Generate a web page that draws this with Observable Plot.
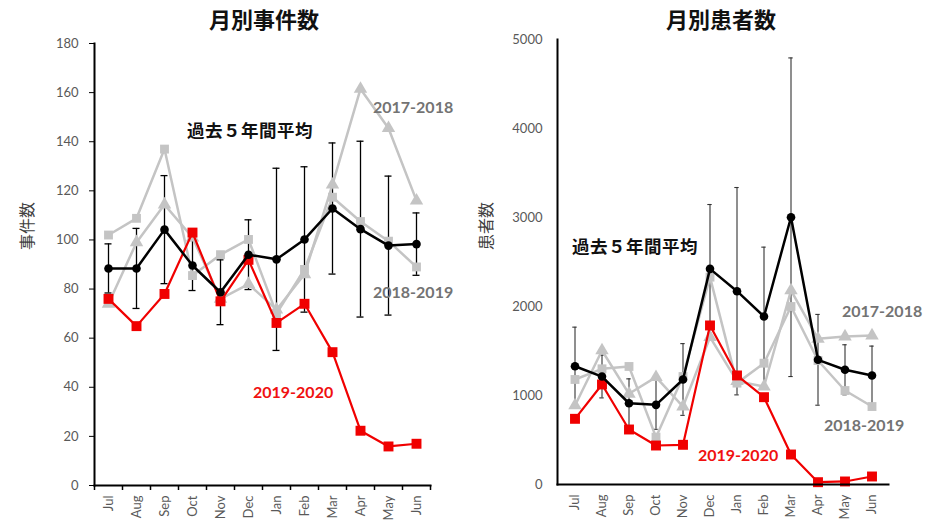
<!DOCTYPE html>
<html>
<head>
<meta charset="utf-8">
<script src="https://cdn.jsdelivr.net/npm/d3@7"></script>
<script src="https://cdn.jsdelivr.net/npm/@observablehq/plot@0.6"></script>
<style>
  body { margin: 0; background: #fff; }
  #wrap { position: relative; width: 925px; height: 522px; overflow: hidden; }
  .panel { position: absolute; top: 0; }
  .title, .ylab, .note { position: absolute; white-space: nowrap; line-height: 1; }
  .title { font-family: "Noto Sans CJK JP", sans-serif; font-weight: 700; font-size: 22px; color: #111; transform: translate(-50%, -50%); }
  .ylab { font-family: "Noto Sans CJK JP", sans-serif; font-size: 16px; color: #404040; transform: translate(-50%, -50%) rotate(-90deg); }
  .note { transform: translateY(-50%); font-weight: 700; }
  .avg { font-family: "Noto Sans CJK JP", sans-serif; font-size: 17.5px; color: #111; letter-spacing: 0.5px; }
  .yr { font-family: Lato, sans-serif; font-size: 16px; }
  .gray { color: #737373; }
  .red { color: #f01010; }
</style>
</head>
<body>
<div id="wrap">
  <div class="title" style="left:264px; top:18px;">月別事件数</div>
  <div class="title" style="left:721px; top:18px;">月別患者数</div>
  <div class="ylab" style="left:26px; top:226px;">事件数</div>
  <div class="ylab" style="left:485px; top:226px;">患者数</div>
</div>
<script>
// Fiscal-year months, July through June
const months = ["Jul", "Aug", "Sep", "Oct", "Nov", "Dec", "Jan", "Feb", "Mar", "Apr", "May", "Jun"];

// Monthly number of cases
const casesAvg  = [88.4, 88.4, 104.2, 89.6, 78.7, 94.0, 92.1, 100.2, 112.8, 104.4, 97.7, 98.3];
const casesSd   = [10.0, 16.3, 22.0, 10.2, 13.2, 14.2, 37.1, 29.6, 26.7, 35.8, 28.3, 12.7];
const cases1718 = [74, 99, 114.4, 101, 76, 82, 71.6, 86, 122.5, 161.5, 145.5, 116];
const cases1819 = [102, 108.8, 137, 85.5, 94, 100.2, 70, 88, 117.4, 107.5, 99.5, 89];
const cases1920 = [76, 64.9, 78, 103, 75, 91.9, 66.2, 74, 54.3, 22.3, 15.9, 17];
const casesTicks = [0, 20, 40, 60, 80, 100, 120, 140, 160, 180];

// Monthly number of patients
const patientsAvg  = [1329, 1213, 913, 895, 1180, 2423, 2172, 1888, 3003, 1401, 1289, 1225];
const patientsSd   = [439, 240, 274, 275, 403, 723, 1165, 779, 1790, 510, 281, 330];
const patients1718 = [888, 1506, 1019, 1206, 876, 1655, 1161, 1101, 2180, 1637, 1663, 1674];
const patients1819 = [1180, 1300, 1326, 532, 1213, 2330, 1139, 1363, 2000, 1393, 1056, 876];
const patients1920 = [738, 1124, 618, 438, 446, 1787, 1225, 981, 337, 26, 34, 90];
const patientsTicks = [0, 1000, 2000, 3000, 4000, 5000];

const seriesNames = ["過去５年間平均", "2017-2018", "2018-2019", "2019-2020"];

const GRAY = "#c4c4c4";
const RED = "#f00000";

function rows(avg, sd, a, b, c) {
  return months.map((m, i) => ({month: m, avg: avg[i], sd: sd[i], s1718: a[i], s1819: b[i], s1920: c[i]}));
}

function panel(o) {
  const data = rows(...o.values);
  const bw = (o.width - o.marginLeft - o.marginRight) / months.length;
  const capInset = (bw - o.capWidth) / 2;
  const marks = [
    Plot.axisY({ticks: o.ticks, tickFormat: d3.format("d"), tickSize: o.yTickSize, tickPadding: o.yTickPadding, stroke: "#000", fill: "#595959", label: null}),
    Plot.axisX({tickSize: 0, tickPadding: 10, tickRotate: -90, fill: "#595959", label: null})
  ];
  if (o.xBoundaryTicks) {
    marks.push(
      Plot.axisX({tickSize: 5, tickFormat: () => "", dx: -bw / 2, stroke: "#000", strokeWidth: 1.5, label: null}),
      Plot.axisX({ticks: [months[months.length - 1]], tickSize: 5, tickFormat: () => "", dx: bw / 2, stroke: "#000", strokeWidth: 1.5, label: null})
    );
  }
  marks.push(
    // error bars: five-year mean ± SD
    Plot.ruleX(data, {x: "month", y1: d => d.avg - d.sd, y2: d => d.avg + d.sd, stroke: o.errColor, strokeWidth: o.errWidth}),
    Plot.tickY(data, {x: "month", y: d => d.avg + d.sd, insetLeft: capInset, insetRight: capInset, stroke: o.errColor, strokeWidth: o.errWidth}),
    Plot.tickY(data, {x: "month", y: d => d.avg - d.sd, insetLeft: capInset, insetRight: capInset, stroke: o.errColor, strokeWidth: o.errWidth}),
    // 2017-2018 (triangles)
    Plot.line(data, {x: "month", y: "s1718", stroke: GRAY, strokeWidth: 2.5}),
    Plot.dot(data, {x: "month", y: "s1718", symbol: "triangle", r: 5, fill: GRAY}),
    // 2018-2019 (squares)
    Plot.line(data, {x: "month", y: "s1819", stroke: GRAY, strokeWidth: 2.5}),
    Plot.dot(data, {x: "month", y: "s1819", symbol: "square", r: 5, fill: GRAY}),
    // 2019-2020
    Plot.line(data, {x: "month", y: "s1920", stroke: RED, strokeWidth: 2.2}),
    Plot.dot(data, {x: "month", y: "s1920", symbol: "square", r: 5.6, fill: RED}),
    // five-year average
    Plot.line(data, {x: "month", y: "avg", stroke: "#000", strokeWidth: 2.5}),
    Plot.dot(data, {x: "month", y: "avg", r: 4.3, fill: "#000"}),
    // axis lines
    Plot.frame({anchor: "left", stroke: "#000", strokeWidth: 2}),
    Plot.frame({anchor: "bottom", stroke: "#000", strokeWidth: 2})
  );
  return Plot.plot({
    width: o.width,
    height: 522,
    marginTop: o.marginTop,
    marginBottom: o.marginBottom,
    marginLeft: o.marginLeft,
    marginRight: o.marginRight,
    style: {fontFamily: "Lato, sans-serif", fontSize: "13px", background: "transparent", overflow: "visible"},
    x: {type: "band", domain: months, padding: 0},
    y: {domain: [o.ticks[0], o.ticks[o.ticks.length - 1]]},
    marks
  });
}

const wrap = document.getElementById("wrap");

const left = panel({
  values: [casesAvg, casesSd, cases1718, cases1819, cases1920],
  ticks: casesTicks,
  width: 460, marginTop: 43, marginBottom: 37, marginLeft: 94, marginRight: 30,
  yTickSize: 5, yTickPadding: 11, xBoundaryTicks: true,
  capWidth: 7, errColor: "#000", errWidth: 1.3
});
left.classList.add("panel");
left.style.left = "0px";
wrap.appendChild(left);

const right = panel({
  values: [patientsAvg, patientsSd, patients1718, patients1819, patients1920],
  ticks: patientsTicks,
  width: 462, marginTop: 39, marginBottom: 38, marginLeft: 94, marginRight: 37,
  yTickSize: 0, yTickPadding: 15, xBoundaryTicks: false,
  capWidth: 5, errColor: "#333", errWidth: 1.1
});
right.classList.add("panel");
right.style.left = "463px";
wrap.appendChild(right);

// series labels placed next to their lines
const notes = [
  {text: seriesNames[0], cls: "avg", left: 187, top: 130},
  {text: seriesNames[1], cls: "yr gray", left: 373, top: 107},
  {text: seriesNames[2], cls: "yr gray", left: 373, top: 292},
  {text: seriesNames[3], cls: "yr red", left: 253, top: 392},
  {text: seriesNames[0], cls: "avg", left: 572, top: 246},
  {text: seriesNames[1], cls: "yr gray", left: 842, top: 311},
  {text: seriesNames[2], cls: "yr gray", left: 824, top: 425},
  {text: seriesNames[3], cls: "yr red", left: 698, top: 455}
];
for (const n of notes) {
  const el = document.createElement("div");
  el.className = "note " + n.cls;
  el.textContent = n.text;
  el.style.left = n.left + "px";
  el.style.top = n.top + "px";
  wrap.appendChild(el);
}
</script>
</body>
</html>
